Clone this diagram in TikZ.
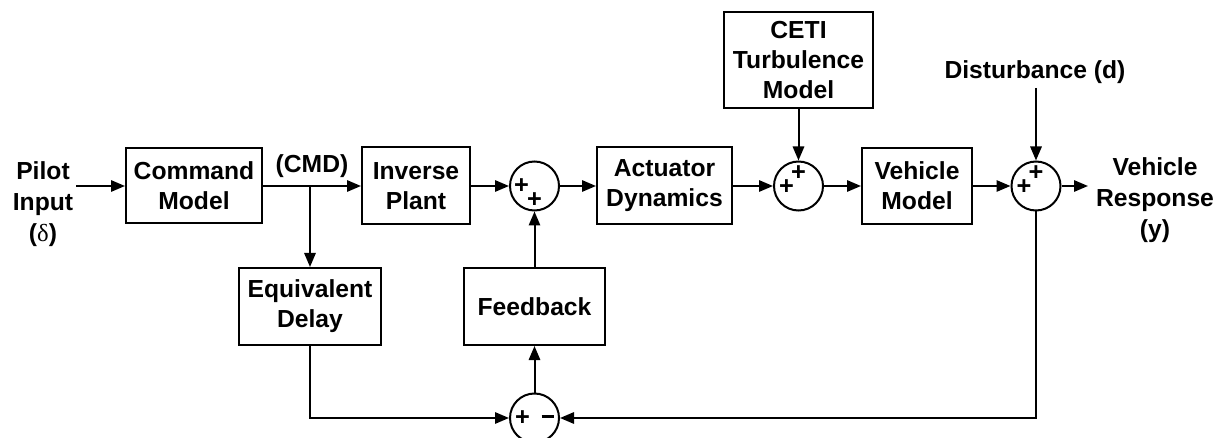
\documentclass[tikz,border=0pt]{standalone}
\usepackage{fontspec}
\setmainfont{Liberation Sans}
\newfontfamily\greekserif{Liberation Serif}
\usetikzlibrary{arrows.meta,calc}
\begin{document}
\begin{tikzpicture}[x=0.75pt,y=-0.75pt,
  >={Triangle[length=10.5pt,width=8.5pt]},
  conn/.style={line width=1.5pt,->},
  blk/.style={draw,line width=1.5pt,inner sep=0pt,align=center,
    font=\fontsize{18.5}{22.5}\selectfont\bfseries},
  sumj/.style={draw,circle,line width=1.5pt,minimum size=36.75pt,inner sep=0pt},
  lbl/.style={align=center,inner sep=0pt,font=\fontsize{18.5}{23.5}\selectfont\bfseries},
  sgn/.style={inner sep=0pt,font=\fontsize{19}{19}\selectfont\bfseries}]
\useasboundingbox (0,0) rectangle (1220,438);
% blocks
\node[blk,minimum width=102pt,minimum height=56.25pt] (cmd) at (194,186) {Command\\Model};
\node[blk,minimum width=81pt,minimum height=57.75pt] (inv) at (416,186) {Inverse\\Plant};
\node[blk,minimum width=101.25pt,minimum height=57.75pt] (act) at (664.5,186) {Actuator\\Dynamics};
\node[blk,minimum width=111.75pt,minimum height=72pt] (ceti) at (798.5,60) {CETI\\Turbulence\\Model};
\node[blk,minimum width=82.5pt,minimum height=57pt] (veh) at (917,186) {Vehicle\\Model};
\node[blk,minimum width=106.5pt,minimum height=57.75pt] (eqd) at (310,306.5) {Equivalent\\Delay};
\node[blk,minimum width=105.75pt,minimum height=57.75pt] (fb) at (534.5,306.5) {Feedback};
% summing junctions
\node[sumj] (s1) at (534.5,186) {};
\node[sumj] (s2) at (798.5,186) {};
\node[sumj] (s3) at (1036,186) {};
\node[sumj] (s4) at (534.5,418) {};
\node[sgn] (s1a) at ($(s1)+(-13,0)$) {+};
\node[sgn] (s1b) at ($(s1)+(0,14)$) {+};
\node[sgn] (s2a) at ($(s2)+(-12,1)$) {+};
\node[sgn] (s2b) at ($(s2)+(0,-13)$) {+};
\node[sgn] (s3a) at ($(s3)+(-12,1)$) {+};
\node[sgn] (s3b) at ($(s3)+(0,-13)$) {+};
\node[sgn] (s4a) at ($(s4)+(-12,0.5)$) {+};
\node[sgn] (s4b) at ($(s4)+(13,-1.5)$) {\rule{9pt}{2.2pt}};
% labels
\node[lbl] (pilot) at (43,204) {Pilot\\Input\\({\greekserif\mdseries δ})};
\node[lbl] (cmdlbl) at (312,166) {(CMD)};
\node[lbl] (dist) at (1035,72) {Disturbance (d)};
\node[lbl] (resp) at (1155,200) {Vehicle\\Response\\(y)};
% connectors
\coordinate (pin) at (76,186);
\coordinate (br) at (310,186);
\coordinate (din) at (1036,88);
\coordinate (yout) at (1088,186);
\draw[conn] (pin) -- (cmd.west);
\draw[conn] (cmd.east) -- (inv.west);
\draw[conn] (br) -- (eqd.north);
\draw[conn] (inv.east) -- (s1.west);
\draw[conn] (s1.east) -- (act.west);
\draw[conn] (act.east) -- (s2.west);
\draw[conn] (ceti.south) -- (s2.north);
\draw[conn] (s2.east) -- (veh.west);
\draw[conn] (veh.east) -- (s3.west);
\draw[conn] (din) -- (s3.north);
\draw[conn] (s3.east) -- (yout);
\draw[conn] (fb.north) -- (s1.south);
\draw[conn] (s4.north) -- (fb.south);
\draw[conn] (eqd.south) |- (s4.west);
\draw[conn] (s3.south) |- (s4.east);
\end{tikzpicture}
\end{document}
